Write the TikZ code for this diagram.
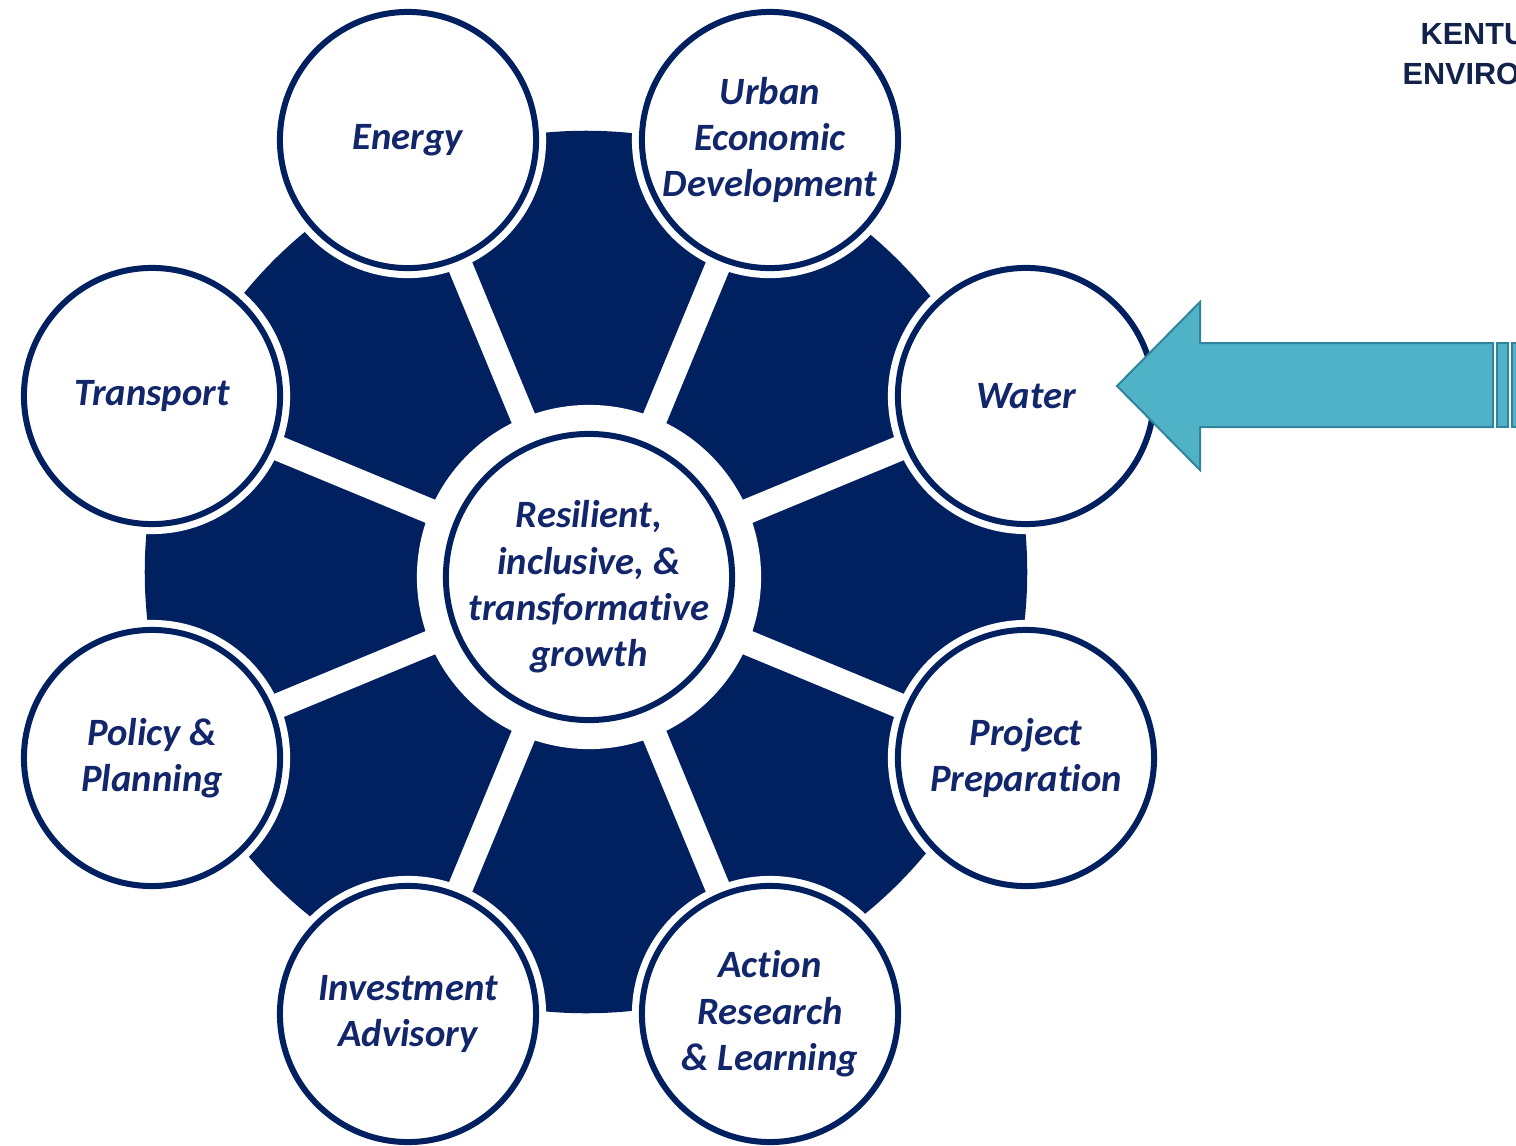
\documentclass[tikz,border=0pt]{standalone}
\usepackage{fontspec}
\setmainfont{Carlito}[Ligatures=NoCommon]
\newfontfamily\headfont{Liberation Sans}
\usetikzlibrary{backgrounds}
\definecolor{navy}{HTML}{002060}
\definecolor{navytext}{HTML}{12266B}
\definecolor{headcol}{HTML}{13224A}
\definecolor{arrowfill}{HTML}{4FB2C6}
\definecolor{arrowline}{HTML}{31849B}

\tikzset{
  topicfont/.style={font=\bfseries\itshape\fontsize{11}{13.2}\selectfont},
  topic/.style={circle, draw=navy, fill=white, line width=0.06cm,
    minimum size=2.56cm, inner sep=0pt, align=center, text=navytext,
    topicfont, preaction={draw=white, line width=0.2cm}},
  hubnode/.style={circle, draw=navy, fill=white, line width=0.06cm,
    minimum size=2.86cm, inner sep=0pt,
    preaction={draw=white, line width=0.58cm}},
  hubtext/.style={inner sep=0pt, align=center, text=navytext, topicfont},
  spoke/.style={white, line width=0.25cm},
  headtext/.style={inner sep=0pt, anchor=base west, text=headcol,
    font=\headfont\bfseries\fontsize{8.7}{10}\selectfont},
}

\begin{document}
\begin{tikzpicture}[x=0.01cm, y=0.01cm]
 \useasboundingbox (-589,577) rectangle (927,-568);

 \node[hubnode] (hub) at (0,0) {};
 \node[hubtext] (hubtext) at ([yshift=-0.1cm]hub.center)
   {Resilient,\\inclusive, \&\\transformative\\growth};

 \foreach \ang / \name / \txt in {112.5/energy/Energy,
     67.5/urban/{Urban\\Economic\\Development},
     22.5/water/Water,
     -22.5/project/{Project\\Preparation},
     -67.5/action/{Action\\Research\\\& Learning},
     -112.5/invest/{Investment\\Advisory},
     -157.5/policy/{Policy \&\\Planning},
     157.5/transport/Transport}
  {
    \node[topic] (\name) at (\ang:473) {\txt};
  }

 \begin{pgfonlayer}{background}
  \fill[navy] (-3,5) circle (4.41cm);
  \foreach \name in {energy,urban,water,project,action,invest,policy,transport}
  {
    \draw[spoke] (hub.center) -- (\name.center);
  }
 \end{pgfonlayer}

 % striped arrow pointing at Water
 \draw[fill=arrowfill, draw=arrowline, line width=0.02cm, line join=miter]
   (528,191) -- (611,275) -- (611,234) -- (904,234) -- (904,150)
   -- (611,150) -- (611,107) -- cycle;
 \draw[fill=arrowfill, draw=arrowline, line width=0.02cm] (908,234) rectangle (919,150);
 \draw[fill=arrowfill, draw=arrowline, line width=0.02cm] (923,234) rectangle (945,150);

 \node[headtext] (kentu) at (831,532) {KENTU};
 \node[headtext] (enviro) at (813,492) {ENVIRO};
\end{tikzpicture}
\end{document}
